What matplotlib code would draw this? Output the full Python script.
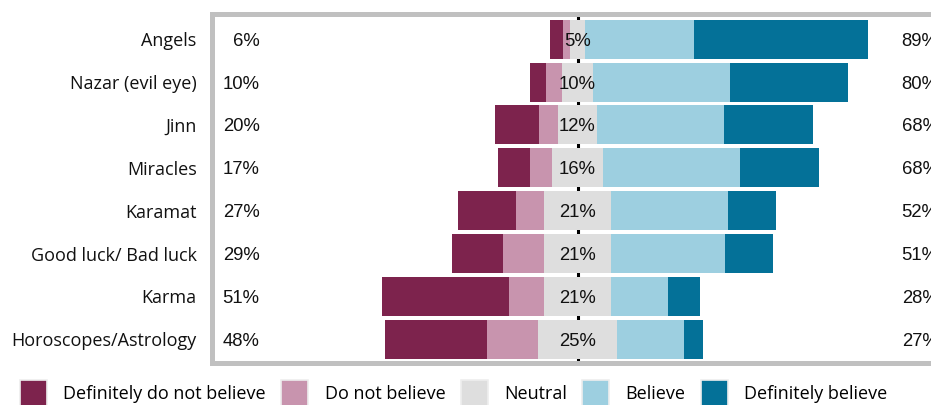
import matplotlib
matplotlib.use("Agg")
import matplotlib.pyplot as plt
from matplotlib.patches import Patch
import numpy as np

categories = ["Angels", "Nazar (evil eye)", "Jinn", "Miracles", "Karamat",
              "Good luck/ Bad luck", "Karma", "Horoscopes/Astrology"]
def_not_believe = [4, 5, 14, 10, 18, 16, 40, 32]
not_believe = [2, 5, 6, 7, 9, 13, 11, 16]
neutral = [5, 10, 12, 16, 21, 21, 21, 25]
believe = [34, 43, 40, 43, 37, 36, 18, 21]
def_believe = [55, 37, 28, 25, 15, 15, 10, 6]
left_labels = ["6%", "10%", "20%", "17%", "27%", "29%", "51%", "48%"]
mid_labels = ["5%", "10%", "12%", "16%", "21%", "21%", "21%", "25%"]
right_labels = ["89%", "80%", "68%", "68%", "52%", "51%", "28%", "27%"]
series_names = ["Definitely do not believe", "Do not believe", "Neutral",
                "Believe", "Definitely believe"]
colors = ["#7d234d", "#c894ae", "#dedede", "#9dcfe0", "#047198"]

W, H = 931, 405
fig = plt.figure(figsize=(W / 100, H / 100), dpi=100)
ax = fig.add_axes([212 / W, 1 - 362.5 / H, 731 / W, 349 / H])

y = np.arange(len(categories))
dn = np.array(def_not_believe, float)
nb = np.array(not_believe, float)
ne = np.array(neutral, float)
be = np.array(believe, float)
db = np.array(def_believe, float)

start = -(ne / 2 + nb + dn)
segments = [dn, nb, ne, be, db]
left = start.copy()
bh = 0.91
for seg, c in zip(segments, colors):
    ax.barh(y, seg, left=left, height=bh, color=c, edgecolor="none", zorder=2)
    left = left + seg

ax.axvline(0, color="black", lw=2.2, zorder=1)

lab_font = dict(family=["Liberation Sans", "DejaVu Sans"], size=13.3, color="#111111")
for i in range(len(categories)):
    ax.text(-100, y[i], left_labels[i], ha="right", va="center_baseline", **lab_font)
    ax.text(0, y[i], mid_labels[i], ha="center", va="center_baseline", zorder=3, **lab_font)
    ax.text(102, y[i], right_labels[i], ha="left", va="center_baseline", clip_on=False, **lab_font)

ax.set_xlim(-115, 115)
ax.set_ylim(7.54, -0.6)
ax.set_xticks([])
ax.set_yticks(y)
ax.set_yticklabels(categories, family=["Open Sans", "DejaVu Sans"], fontsize=13, color="#111111")
ax.tick_params(axis="y", length=0, pad=11)
for s in ax.spines.values():
    s.set_color("#c0c0c0")
    s.set_linewidth(3.6)

handles = [Patch(facecolor=c, edgecolor="#eeeeee", linewidth=1.2) for c in colors]
fig.legend(handles, series_names, loc="upper left",
           bbox_to_anchor=(20 / W, 1 - 380 / H), ncol=5, frameon=False,
           prop=dict(family=["Open Sans", "DejaVu Sans"], size=13),
           handlelength=1.5, handleheight=1.92, handletextpad=0.9,
           columnspacing=0.85, borderpad=0, borderaxespad=0)

fig.savefig("out.png", dpi=100)
